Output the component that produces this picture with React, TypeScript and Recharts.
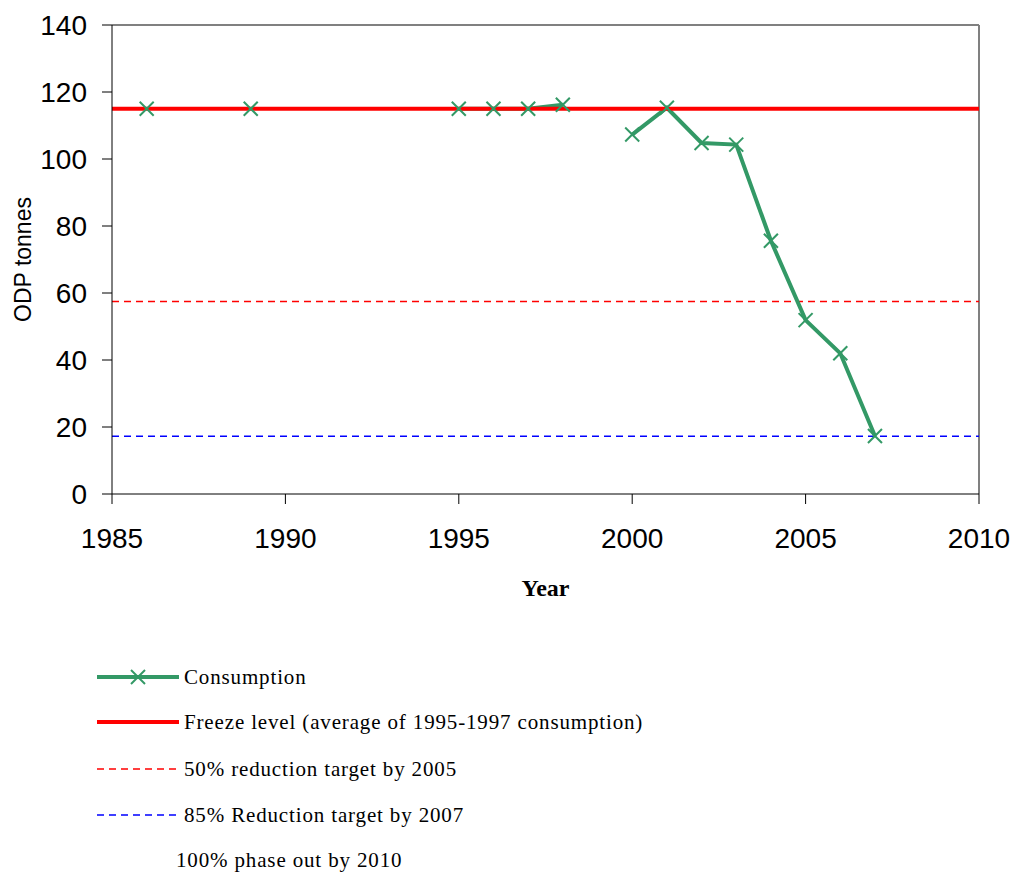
import { LineChart, Line, XAxis, YAxis, ReferenceLine } from "recharts";

const years = [1986, 1987, 1989, 1990, 1995, 1996, 1997, 1998, 1999, 2000, 2001, 2002, 2003, 2004, 2005, 2006, 2007];
const consumption = [115, null, 115, null, 115, 115, 115, 116.2, null, 107.3, 115.3, 104.8, 104.3, 75.6, 51.9, 42, 17.3];
const xTicks = [1985, 1990, 1995, 2000, 2005, 2010];
const yTicks = [0, 20, 40, 60, 80, 100, 120, 140];

const freezeLevel = 115;
const target50 = 57.5;
const target85 = 17.25;

const legendLabels = [
  "Consumption",
  "Freeze level (average of 1995-1997 consumption)",
  "50% reduction target by 2005",
  "85% Reduction target by 2007",
  "100% phase out by 2010",
];

const data = years.map((year, i) => ({ year, consumption: consumption[i] }));

const GREEN = "#339966";
const SANS = "'Liberation Sans', Arial, sans-serif";
const SERIF = "'Liberation Serif', 'Times New Roman', serif";

function CrossDot(props: any) {
  const { cx, cy, value } = props;
  if (value == null || cx == null || cy == null) return null;
  const r = 7;
  return (
    <g>
      <line x1={cx - r} y1={cy - r} x2={cx + r} y2={cy + r} stroke={GREEN} strokeWidth={2} />
      <line x1={cx - r} y1={cy + r} x2={cx + r} y2={cy - r} stroke={GREEN} strokeWidth={2} />
    </g>
  );
}

function YLabel(props: any) {
  const { viewBox } = props;
  const cy = viewBox.y + viewBox.height / 2;
  return (
    <text
      x={23}
      y={cy}
      transform={`rotate(-90, 23, ${cy})`}
      textAnchor="middle"
      dominantBaseline="central"
      fontFamily={SANS}
      fontSize={23}
      fill="#000"
    >
      ODP tonnes
    </text>
  );
}

function XLabel(props: any) {
  const { viewBox } = props;
  const cx = viewBox.x + viewBox.width / 2;
  return (
    <text x={cx} y={596} textAnchor="middle" fontFamily={SERIF} fontWeight="bold" fontSize={24} fill="#000">
      Year
    </text>
  );
}

function ChartLegend() {
  const rows = [677, 722, 769, 815, 860];
  return (
    <svg width={1016} height={233} style={{ position: "absolute", left: 0, top: 640 }}>
      <g transform="translate(0,-640)">
        <line x1={97} x2={179} y1={rows[0]} y2={rows[0]} stroke={GREEN} strokeWidth={4} />
        <line x1={131} y1={rows[0] - 7} x2={145} y2={rows[0] + 7} stroke={GREEN} strokeWidth={2} />
        <line x1={131} y1={rows[0] + 7} x2={145} y2={rows[0] - 7} stroke={GREEN} strokeWidth={2} />
        <line x1={97} x2={179} y1={rows[1]} y2={rows[1]} stroke="#FF0000" strokeWidth={4} />
        <line x1={97} x2={179} y1={rows[2]} y2={rows[2]} stroke="#FF0000" strokeWidth={1.5} strokeDasharray="7 5" />
        <line x1={97} x2={179} y1={rows[3]} y2={rows[3]} stroke="#0000FF" strokeWidth={1.5} strokeDasharray="7 5" />
        {legendLabels.map((label, i) => (
          <text
            key={label}
            x={i === 4 ? 176 : 184}
            y={rows[i]}
            dominantBaseline="central"
            fontFamily={SERIF}
            fontSize={21}
            letterSpacing={0.85}
            fill="#000"
          >
            {label}
          </text>
        ))}
      </g>
    </svg>
  );
}

export default function App() {
  return (
    <div style={{ position: "absolute", left: 0, top: 0, width: 1016, height: 873, background: "#fff" }}>
      <LineChart width={1016} height={640} data={data} margin={{ top: 25, right: 37, left: 0, bottom: 0 }}>
        <XAxis
          dataKey="year"
          type="number"
          domain={[1985, 2010]}
          ticks={xTicks}
          allowDataOverflow
          stroke="#000"
          tickSize={10}
          tickMargin={24}
          height={146}
          tick={{ fill: "#000", fontFamily: SANS, fontSize: 28 }}
          label={<XLabel />}
        />
        <YAxis
          type="number"
          domain={[0, 140]}
          ticks={yTicks}
          stroke="#000"
          width={112}
          tickSize={10}
          tickMargin={15}
          tick={{ fill: "#000", fontFamily: SANS, fontSize: 28 }}
          label={<YLabel />}
        />
        <ReferenceLine y={140} stroke="#808080" strokeWidth={2} />
        <ReferenceLine x={2010} stroke="#808080" strokeWidth={2} />
        <ReferenceLine y={target50} stroke="#FF0000" strokeWidth={1.5} strokeDasharray="7 5" />
        <ReferenceLine y={target85} stroke="#0000FF" strokeWidth={1.5} strokeDasharray="7 5" />
        <Line
          dataKey="consumption"
          stroke={GREEN}
          strokeWidth={4}
          dot={<CrossDot />}
          activeDot={false}
          isAnimationActive={false}
        />
        <ReferenceLine y={freezeLevel} stroke="#FF0000" strokeWidth={4} />
      </LineChart>
      <ChartLegend />
    </div>
  );
}
